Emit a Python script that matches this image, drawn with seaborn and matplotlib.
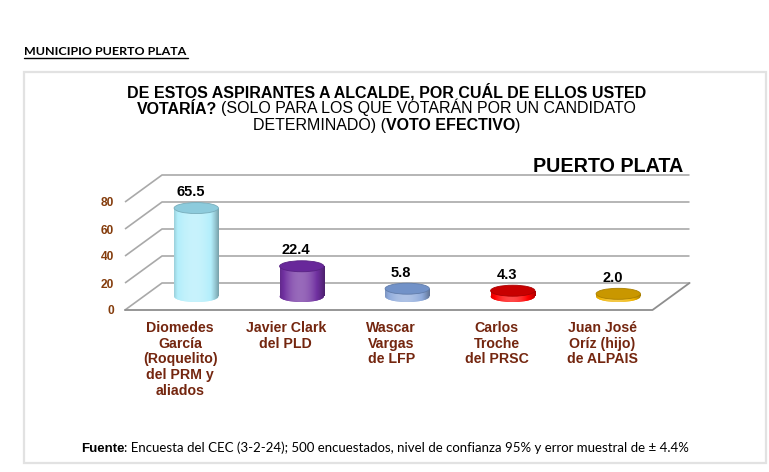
import numpy as np
import pandas as pd
import matplotlib
matplotlib.use("Agg")
import matplotlib.pyplot as plt
import seaborn as sns
from matplotlib.patches import Ellipse, Rectangle
from matplotlib.transforms import ScaledTranslation
import matplotlib.colors as mcolors

# ---------------- data ----------------
candidates = [
    "Diomedes\nGarcía\n(Roquelito)\ndel PRM y\naliados",
    "Javier Clark\ndel PLD",
    "Wascar\nVargas\nde LFP",
    "Carlos\nTroche\ndel PRSC",
    "Juan José\nOríz (hijo)\nde ALPAIS",
]
votes = [65.5, 22.4, 5.8, 4.3, 2.0]
bar_colors = ["#b2eefb", "#7030a0", "#8eaadb", "#ff0000", "#f0b400"]
top_colors = ["#8dcbdc", "#68289a", "#7292c8", "#c80000", "#c99700"]
y_ticks = [0, 20, 40, 60, 80]
y_tick_labels = ["0", "20", "40", "60", "80"]

title_lines = [
    [("DE ESTOS ASPIRANTES A ALCALDE, POR CUÁL DE ELLOS USTED", "bold", False)],
    [("VOTARÍA?", "bold", False), ("(SOLO PARA LOS QUE VOTARÁN POR UN CANDIDATO", "normal", True)],
    [("DETERMINADO) (", "normal", False), ("VOTO EFECTIVO", "bold", False), (")", "normal", False)],
]
header_text = "MUNICIPIO PUERTO PLATA"
chart_label = "PUERTO PLATA"
footer_bold = "Fuente"
footer_rest = ": Encuesta del CEC (3-2-24); 500 encuestados, nivel de confianza 95% y error muestral de ± 4.4%"

# ---------------- style ----------------
sns.set_theme(style="white")
plt.rcParams["font.family"] = ["Liberation Sans", "DejaVu Sans"]

W, H = 769, 472
DPI = 100
fig = plt.figure(figsize=(W / DPI, H / DPI), dpi=DPI)
fig.patch.set_facecolor("white")

# axes in pixel geometry (mid-depth plane of the pseudo-3D chart)
ax_left, ax_w = 143.5, 527.5
ax_bottom_top, ax_h = 296.5, 108.0   # y of value 0 (from top), height for 0..80
ax = fig.add_axes([ax_left / W, (H - ax_bottom_top) / H, ax_w / W, ax_h / H])
ax.set_facecolor("none")

df = pd.DataFrame({"candidato": candidates, "votos": votes})
sns.barplot(data=df, x="candidato", y="votos", hue="candidato", palette=bar_colors,
            width=0.42, saturation=1, legend=False, ax=ax, zorder=2, linewidth=0)

XMIN, XMAX, YMIN, YMAX = -0.5, 4.5, 0, 80
px_per_x = ax_w / (XMAX - XMIN)
px_per_y = ax_h / (YMAX - YMIN)
DX = 18.5 / px_per_x      # half depth, x units
DY = 13.5 / px_per_y      # half depth, y units
EH = 11.0 / px_per_y      # ellipse height, y units

# ---- pseudo-3D walls and gridlines ----
grid_col = "#a9a9a9"
for v in y_ticks:
    if v == 0:
        continue
    ax.plot([XMIN - DX, XMIN + DX, XMAX + DX], [v - DY, v + DY, v + DY],
            color=grid_col, lw=1.2, zorder=0, clip_on=False, solid_capstyle="butt")
ax.plot([XMIN - DX, XMIN + DX, XMAX + DX], [-DY, DY, DY],
        color=grid_col, lw=1.2, zorder=0, clip_on=False)
ax.plot([XMIN - DX, XMAX - DX, XMAX + DX], [-DY, -DY, DY],
        color="#8e8e8e", lw=1.3, zorder=0.5, clip_on=False)


def shade(c, k):
    c = np.array(mcolors.to_rgb(c))
    if k >= 0:
        return c + (1 - c) * k
    return c * (1 + k)


# ---- cylinders built on the seaborn bars ----
bars = sorted(ax.patches, key=lambda p: p.get_x())
for i, p in enumerate(bars):
    x0, w, h = p.get_x(), p.get_width(), p.get_height()
    cx = x0 + w / 2
    base = bar_colors[i]
    t = np.linspace(0, 1, 64)
    k = 0.28 - 0.60 * ((t - 0.45) / 0.55) ** 2
    grad = np.array([shade(base, kk) for kk in k])[None, :, :]
    bottom_el = Ellipse((cx, 0), w, EH, transform=ax.transData,
                        facecolor=base, edgecolor="none", zorder=2)
    ax.add_patch(bottom_el)
    bottom_el.set_clip_box(fig.bbox)
    for clip in (p, bottom_el):
        im = ax.imshow(grad, extent=(x0, x0 + w, -EH / 2, h), aspect="auto",
                       zorder=2.1, interpolation="bilinear")
        im.set_clip_box(fig.bbox)
        im.set_clip_path(clip)
    top_el = Ellipse((cx, h), w, EH, transform=ax.transData,
                     facecolor=top_colors[i], edgecolor=shade(top_colors[i], -0.15),
                     lw=0.6, zorder=3)
    ax.add_patch(top_el)
    top_el.set_clip_box(fig.bbox)

# value labels
for cont in ax.containers:
    anns = ax.bar_label(cont, fmt="%.1f", padding=6.5, fontsize=10.5,
                        fontweight="bold", color="black", zorder=5)
    for a in anns:
        a.xyann = (-4.3, 6.5)

ax.set_xlim(XMIN, XMAX)
ax.set_ylim(YMIN, YMAX)
for s in ax.spines.values():
    s.set_visible(False)
ax.set_xlabel("")
ax.set_ylabel("")

# ticks on the front plane
front = ScaledTranslation(-18.5 / DPI, -13.5 / DPI, fig.dpi_scale_trans)
ax.set_yticks(y_ticks)
ax.set_yticklabels(y_tick_labels)
ax.tick_params(axis="y", length=0, pad=8, labelsize=8.6, labelcolor="#843c0c")
ax.tick_params(axis="x", length=0, pad=8, labelsize=10.2, labelcolor="#74260f")
for lab in ax.get_yticklabels():
    lab.set_fontweight("bold")
    lab.set_transform(lab.get_transform() + front)
ax.set_xticks(range(len(candidates)))
ax.set_xticklabels(candidates)
for lab in ax.get_xticklabels():
    lab.set_fontweight("bold")
    lab.set_multialignment("center")
    lab.set_linespacing(1.15)
    lab.set_transform(lab.get_transform() + ScaledTranslation(-16 / DPI, -13.5 / DPI, fig.dpi_scale_trans))

# ---------------- texts outside the axes ----------------
renderer = fig.canvas.get_renderer()


def place(pieces, x_px, base_px, ha="center", size=10, family=None, target=None, color="black"):
    texts = []
    for s, wgt, sp in pieces:
        kw = dict(fontsize=size, fontweight=wgt, va="baseline", ha="left", color=color)
        if family:
            kw["family"] = family
        texts.append((fig.text(0, 1 - base_px / H, s, **kw), sp))

    def widths(sz):
        ws = []
        for t, sp in texts:
            t.set_fontsize(sz)
            ws.append(t.get_window_extent(renderer).width)
        return ws

    ws = widths(size)
    gap = 0.278 * size * DPI / 72
    total = sum(ws) + gap * sum(sp for _, sp in texts)
    if target:
        size = size * target / total
        ws = widths(size)
        gap = 0.278 * size * DPI / 72
        total = sum(ws) + gap * sum(sp for _, sp in texts)
    if ha == "center":
        start = x_px - total / 2
    elif ha == "right":
        start = x_px - total
    else:
        start = x_px
    for (t, sp), wd in zip(texts, ws):
        if sp:
            start += gap
        t.set_x(start / W)
        start += wd
    return texts


title_base = [97.7, 113.5, 130.0]
for line, b in zip(title_lines, title_base):
    place(line, 386.5, b, ha="center", size=11.5)

place([(chart_label, "bold", False)], 683, 171.7, ha="right", size=14.2)

place([(header_text, "bold", False)], 24, 55, ha="left", size=9.5,
      family=["Lato", "DejaVu Sans"], target=164)
fig.add_artist(plt.Line2D([24 / W, 188 / W], [1 - 58 / H, 1 - 58 / H],
                          transform=fig.transFigure, color="black", lw=1.0))

ft = place([(footer_bold, "bold", False), (footer_rest, "normal", False)], 81, 451.5,
           ha="left", size=9.5, target=621)
ft[1][0].set_family(["Lato", "DejaVu Sans"])

# frame
fig.add_artist(Rectangle((24 / W, 1 - 463 / H), (766 - 24) / W, (463 - 72) / H,
                         transform=fig.transFigure, fill=False,
                         edgecolor="#e2e2e2", lw=1.6))

fig.savefig("out.png", dpi=DPI, facecolor="white")
